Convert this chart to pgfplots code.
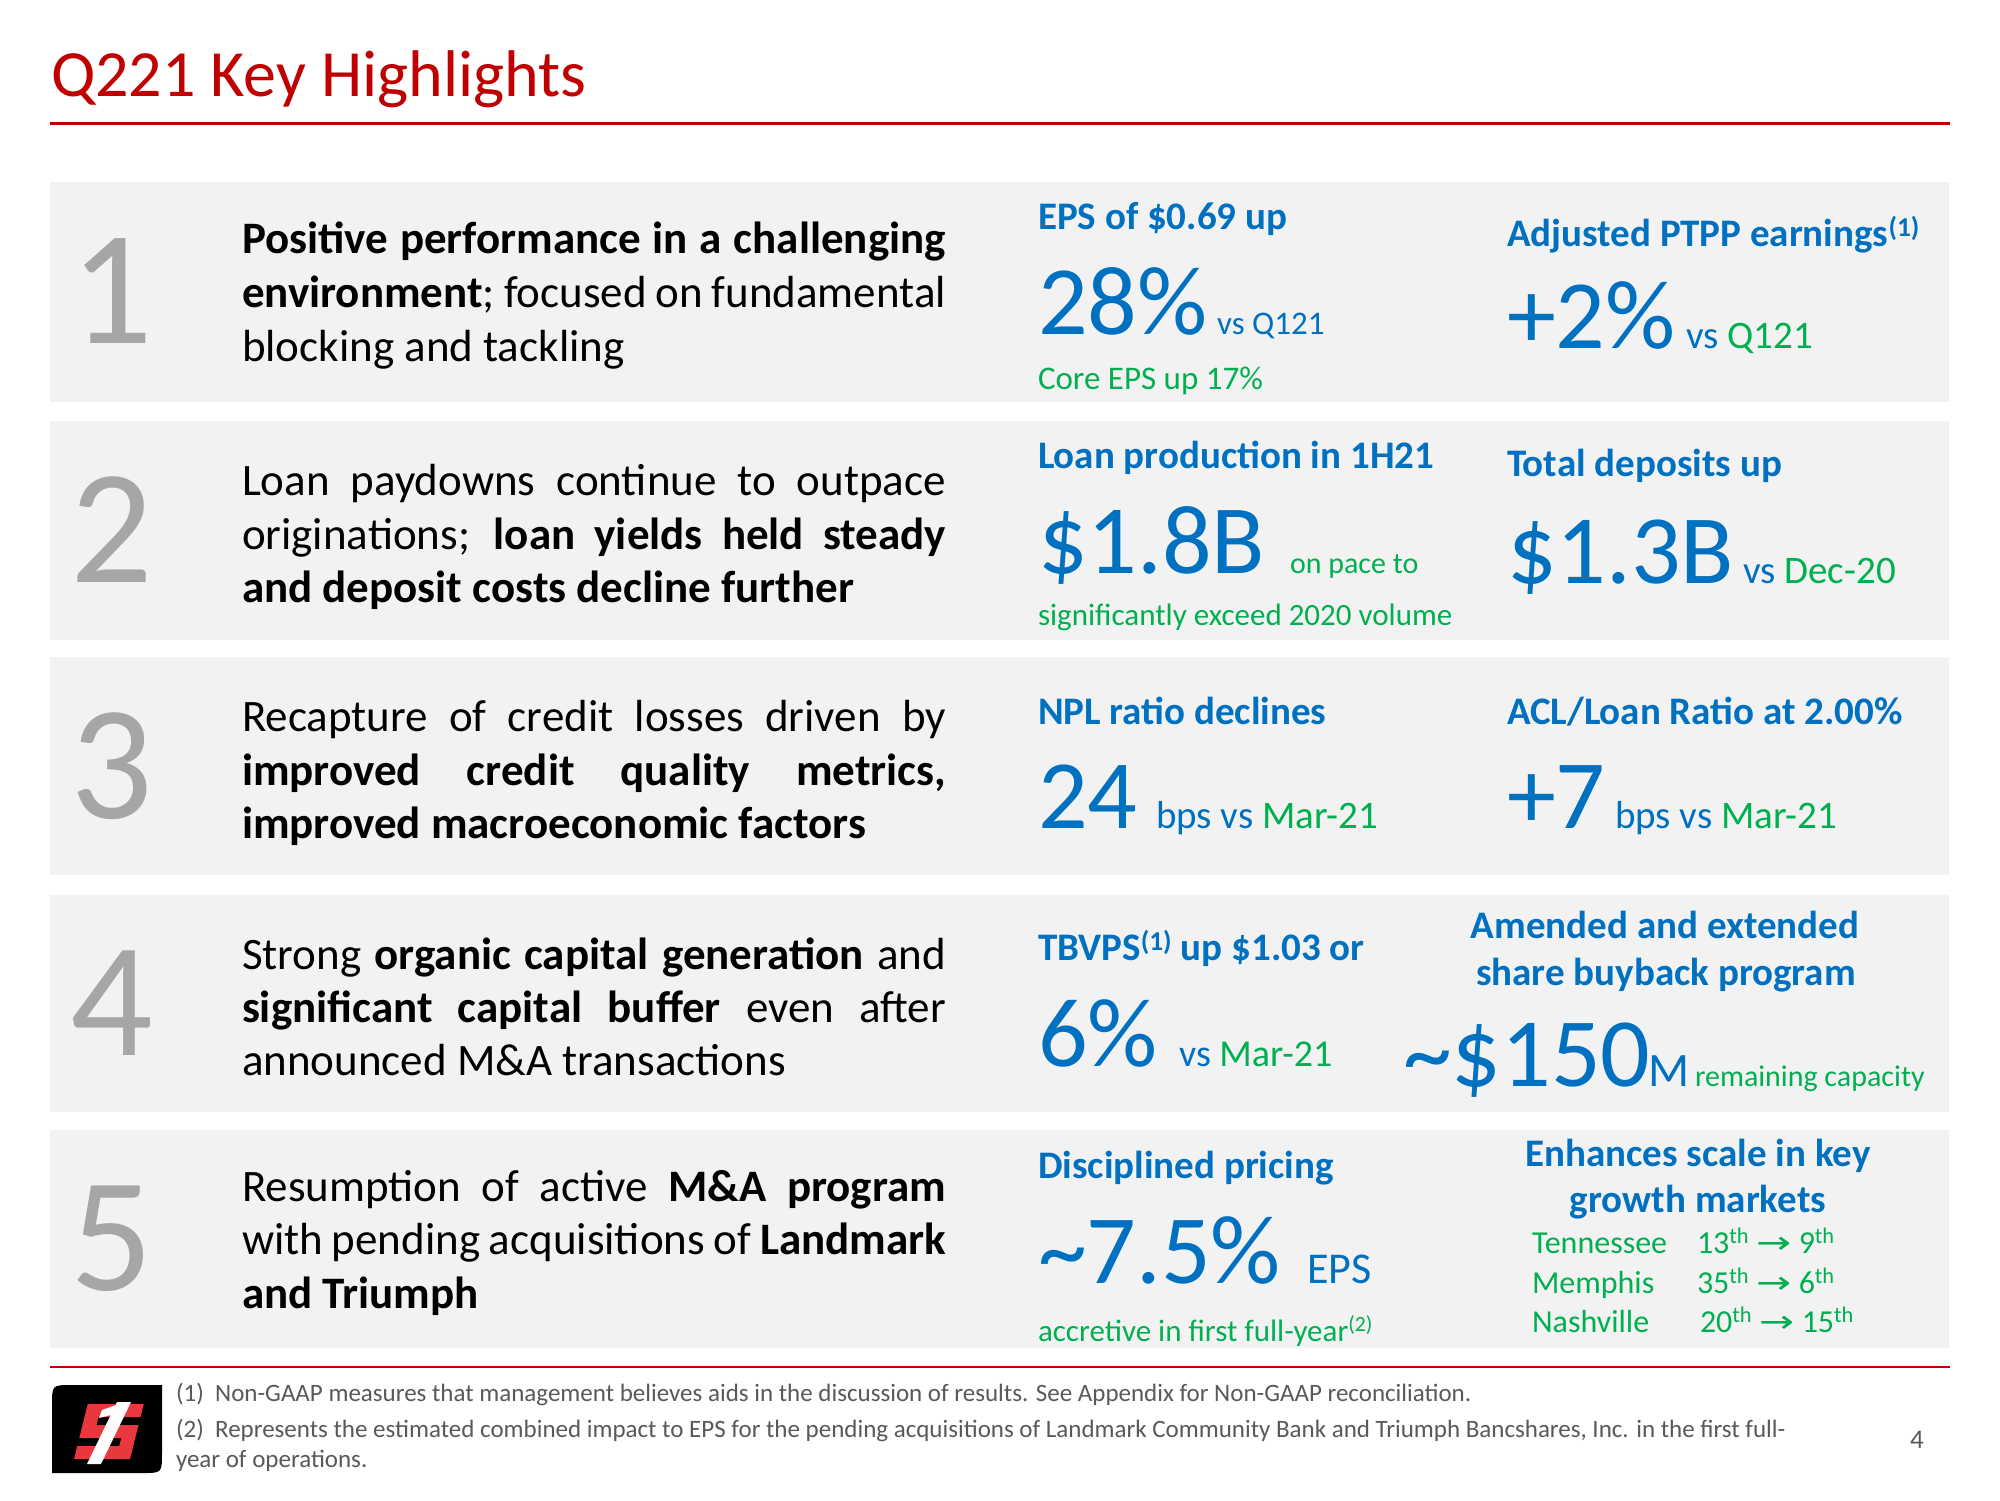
\documentclass[border=0pt]{standalone}
\usepackage{fontspec}
\setmainfont{Carlito}
\newfontfamily\dejavu{DejaVu Sans}
\usepackage{graphicx}
\usepackage{pgfplots}
\pgfplotsset{compat=1.18}
\definecolor{tblue}{HTML}{0070C0}
\definecolor{tgreen}{HTML}{00B050}
\definecolor{tred}{HTML}{C00000}
\definecolor{panelgray}{HTML}{F2F2F2}
\definecolor{digitgray}{HTML}{A6A6A6}
\definecolor{footgray}{HTML}{595959}
\definecolor{logored}{HTML}{E8383D}
\newcommand{\tx}[4]{\node[anchor=base west,inner sep=0pt,outer sep=0pt] at (axis cs:#1,#2) {\fontsize{#3}{#3}\selectfont #4};}
\newcommand{\tc}[4]{\node[anchor=base,inner sep=0pt,outer sep=0pt] at (axis cs:#1,#2) {\fontsize{#3}{#3}\selectfont #4};}
\newcommand{\jl}[2]{\node[anchor=base west,inner sep=0pt,outer sep=0pt] at (axis cs:242,#1) {\fontsize{45}{54}\selectfont\makebox[704pt][s]{#2}};}
\newcommand{\dg}[2]{\node[anchor=base,inner sep=0pt,outer sep=0pt,text=digitgray] at (axis cs:112,#1) {\fontsize{163}{163}\selectfont #2};}
\newcommand{\arr}{{\dejavu\fontsize{31}{31}\selectfont\scalebox{1.35}[1]{→}}}
\begin{document}
\begin{tikzpicture}
\begin{axis}[scale only axis, width=2000pt, height=1500pt,
  xmin=0, xmax=2000, ymin=0, ymax=1500, y dir=reverse,
  axis lines=none, ticks=none, clip=false]
% background
\addplot[fill=white, draw=none] coordinates {(0,0) (2000,0) (2000,1500) (0,1500)} -- cycle;
% panels
\addplot[fill=panelgray, draw=none] coordinates {(50,182) (1949,182) (1949,402) (50,402)} -- cycle;
\addplot[fill=panelgray, draw=none] coordinates {(50,421) (1949,421) (1949,640) (50,640)} -- cycle;
\addplot[fill=panelgray, draw=none] coordinates {(50,657) (1949,657) (1949,875) (50,875)} -- cycle;
\addplot[fill=panelgray, draw=none] coordinates {(50,895) (1949,895) (1949,1112) (50,1112)} -- cycle;
\addplot[fill=panelgray, draw=none] coordinates {(50,1130) (1949,1130) (1949,1348) (50,1348)} -- cycle;
% red rules
\addplot[tred, line width=3pt] coordinates {(50,123) (1950,123)};
\addplot[tred, line width=2.6pt] coordinates {(50,1367) (1950,1367)};
% title
\tx{51}{96}{66}{\color{tred}Q221 Key Highlights}
% big digits
\dg{343}{1}
\dg{582}{2}
\dg{818}{3}
\dg{1055}{4}
\dg{1290}{5}
% left texts
\jl{253}{\bfseries Positive performance in a challenging}
\jl{307}{\textbf{environment}; focused on fundamental}
\tx{242}{361}{45}{blocking and tackling}
\jl{495}{Loan paydowns continue to outpace}
\jl{549}{originations; \textbf{loan yields held steady}}
\tx{242}{602}{45}{\bfseries and deposit costs decline further}
\jl{731}{Recapture of credit losses driven by}
\jl{785}{\bfseries improved credit quality metrics,}
\tx{242}{838}{45}{\bfseries improved macroeconomic factors}
\jl{969}{Strong \textbf{organic capital generation} and}
\jl{1022}{\textbf{significant capital buffer} even after}
\tx{242}{1075}{45}{announced M\&A transactions}
\jl{1201}{Resumption of active \textbf{M\&A program}}
\jl{1254}{with pending acquisitions of \textbf{Landmark}}
\tx{242}{1308}{45}{\bfseries and Triumph}
% ---- middle column
\tx{1038}{229}{39}{\bfseries\color{tblue}EPS of \$0.69 up}
\tx{1038}{334}{98}{\color{tblue}28\%}
\tx{1217}{334}{33}{\color{tblue}vs Q121}
\tx{1038}{389}{33}{\color{tgreen}Core EPS up 17\%}
\tx{1038}{468}{39}{\bfseries\color{tblue}Loan production in 1H21}
\tx{1038}{573}{98}{\color{tblue}\$1.8B}
\tx{1290}{573}{30}{\color{tgreen}on pace to}
\tx{1038}{625}{31}{\color{tgreen}significantly exceed 2020 volume}
\tx{1038}{724}{39}{\bfseries\color{tblue}NPL ratio declines}
\tx{1038}{828}{98}{\color{tblue}24}
\tx{1156}{828}{39}{\color{tblue}bps vs \color{tgreen}Mar-21}
\tx{1038}{960}{39}{\bfseries\color{tblue}TBVPS\textsuperscript{(1)} up \$1.03 or}
\tx{1038}{1066}{98}{\color{tblue}6\%}
\tx{1179}{1066}{38}{\color{tblue}vs \color{tgreen}Mar-21}
\tx{1038}{1178}{39}{\bfseries\color{tblue}Disciplined pricing}
\tx{1038}{1283}{98}{\color{tblue}\textasciitilde7.5\%}
\tx{1307}{1283}{44}{\color{tblue}EPS}
\tx{1038}{1341}{31}{\color{tgreen}accretive in first full-year\textsuperscript{(2)}}
% ---- right column
\tx{1507}{246}{39}{\bfseries\color{tblue}Adjusted PTPP earnings\textsuperscript{(1)}}
\tx{1507}{348}{98}{\color{tblue}+2\%}
\tx{1686}{348}{39}{\color{tblue}vs \color{tgreen}Q121}
\tx{1507}{476}{39}{\bfseries\color{tblue}Total deposits up}
\tx{1507}{583}{98}{\color{tblue}\$1.3B}
\tx{1743}{583}{39}{\color{tblue}vs \color{tgreen}Dec-20}
\tx{1507}{724}{39}{\bfseries\color{tblue}ACL/Loan Ratio at 2.00\%}
\tx{1507}{828}{98}{\color{tblue}+7}
\tx{1615}{828}{39}{\color{tblue}bps vs \color{tgreen}Mar-21}
\tc{1665}{938}{39}{\bfseries\color{tblue}Amended and extended}
\tc{1666}{985}{39}{\bfseries\color{tblue}share buyback program}
\tx{1403}{1086}{98}{\color{tblue}\textasciitilde\$150}
\tx{1648}{1086}{48}{\color{tblue}M}
\tx{1695}{1086}{30}{\color{tgreen}remaining capacity}
\tc{1698}{1166}{39}{\bfseries\color{tblue}Enhances scale in key}
\tc{1698}{1212}{39}{\bfseries\color{tblue}growth markets}
\tx{1532}{1253}{32}{\color{tgreen}Tennessee}
\tx{1532}{1293}{32}{\color{tgreen}Memphis}
\tx{1532}{1332}{32}{\color{tgreen}Nashville}
\tx{1697}{1253}{32}{\color{tgreen}13\textsuperscript{th} \arr{} 9\textsuperscript{th}}
\tx{1697}{1293}{32}{\color{tgreen}35\textsuperscript{th} \arr{} 6\textsuperscript{th}}
\tx{1700}{1332}{32}{\color{tgreen}20\textsuperscript{th} \arr{} 15\textsuperscript{th}}
% ---- footnotes
\tx{176}{1401}{25}{\color{footgray}(1)\ \ Non-GAAP measures that management believes aids in the discussion of results. See Appendix for Non-GAAP reconciliation.}
\tx{176}{1437}{25}{\color{footgray}(2)\ \ Represents the estimated combined impact to EPS for the pending acquisitions of Landmark Community Bank and Triumph Bancshares, Inc. in the first full-}
\tx{176}{1467}{25}{\color{footgray}year of operations.}
\tx{1910}{1448}{27}{\color{footgray}4}
% ---- logo
\fill[black] (axis cs:52,1473) -- (axis cs:52,1405) .. controls (axis cs:52,1385) .. (axis cs:72,1385) -- (axis cs:162,1385) -- (axis cs:162,1453) .. controls (axis cs:162,1473) .. (axis cs:142,1473) -- cycle;
\fill[logored] (axis cs:87.75,1404) -- (axis cs:143.75,1404) -- (axis cs:140.5,1417) -- (axis cs:98.5,1417) -- (axis cs:96.5,1425) -- (axis cs:138.5,1425) -- (axis cs:130,1459) -- (axis cs:74,1459) -- (axis cs:77.25,1446) -- (axis cs:119.25,1446) -- (axis cs:121.25,1438) -- (axis cs:79.25,1438) -- cycle;
\fill[white] (axis cs:117,1402) -- (axis cs:131,1402) -- (axis cs:101,1464) -- (axis cs:87,1464) -- cycle;
\fill[white] (axis cs:102,1410) -- (axis cs:119,1404) -- (axis cs:115,1414) -- (axis cs:99,1418) -- cycle;
\end{axis}
\end{tikzpicture}
\end{document}
